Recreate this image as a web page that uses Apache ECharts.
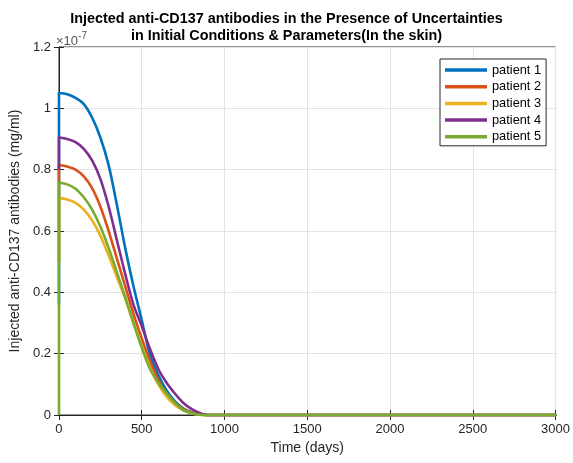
<!DOCTYPE html>
<html>
<head>
<meta charset="utf-8">
<script src="https://cdn.jsdelivr.net/npm/echarts@6/dist/echarts.min.js"></script>
<style>
html,body{margin:0;padding:0;background:#fff;}
#chart{width:573px;height:463px;}
</style>
</head>
<body>
<div id="chart"></div>
<script>
// Time points (days)
var days = [0, 50, 100, 150, 200, 250, 300, 350, 400, 450, 500, 550, 600, 650, 700, 750, 800, 850, 900, 1000, 1500, 2000, 2500, 3000];
// Values in units of 1e-7 mg/ml
var startValues = [0.36, 0.5, 0.5, 0.8, 0];  // value just before the jump at t=0
var patient1 = [1.05, 1.046, 1.034, 1.014, 0.97, 0.905, 0.815, 0.685, 0.545, 0.42, 0.31, 0.195, 0.13, 0.08, 0.045, 0.022, 0.009, 0.003, 0, 0, 0, 0, 0, 0];
var patient2 = [0.815, 0.81, 0.80, 0.778, 0.74, 0.68, 0.60, 0.51, 0.42, 0.33, 0.25, 0.175, 0.115, 0.07, 0.04, 0.02, 0.008, 0.002, 0, 0, 0, 0, 0, 0];
var patient3 = [0.708, 0.703, 0.692, 0.67, 0.635, 0.585, 0.52, 0.45, 0.38, 0.30, 0.225, 0.155, 0.10, 0.06, 0.033, 0.016, 0.006, 0.001, 0, 0, 0, 0, 0, 0];
var patient4 = [0.905, 0.90, 0.89, 0.868, 0.83, 0.77, 0.68, 0.57, 0.46, 0.36, 0.29, 0.215, 0.15, 0.105, 0.07, 0.04, 0.02, 0.007, 0, 0, 0, 0, 0, 0];
var patient5 = [0.758, 0.752, 0.738, 0.71, 0.67, 0.615, 0.545, 0.465, 0.385, 0.30, 0.22, 0.15, 0.105, 0.07, 0.04, 0.016, 0.006, 0.001, 0, 0, 0, 0, 0, 0];
var seriesNames = ['patient 1', 'patient 2', 'patient 3', 'patient 4', 'patient 5'];
var seriesColors = ['#0072BD', '#D95319', '#EDB120', '#7E2F8E', '#77AC30'];
var allValues = [patient1, patient2, patient3, patient4, patient5];
var titleText = 'Injected anti-CD137 antibodies in the Presence of Uncertainties\nin Initial Conditions & Parameters(In the skin)';
var xName = 'Time (days)';
var yName = 'Injected anti-CD137 antibodies (mg/ml)';

function pairs(vals) {
  return days.map(function (d, i) { return [d, vals[i]]; });
}

var chart = echarts.init(document.getElementById('chart'), null, {renderer: 'canvas'});
var font = 'Liberation Sans, Arial, Helvetica, sans-serif';
var axisColor = '#262626';

var series = [];
allValues.forEach(function (vals, i) {
  series.push({
    name: seriesNames[i],
    type: 'line',
    data: [[days[0], startValues[i]], [days[0], vals[0]]],
    showSymbol: false,
    clip: false,
    lineStyle: {width: 2.6, color: seriesColors[i]},
    itemStyle: {color: seriesColors[i]},
    animation: false
  });
  series.push({
    name: seriesNames[i],
    type: 'line',
    data: pairs(vals),
    showSymbol: false,
    smooth: 0.3,
    clip: false,
    lineStyle: {width: 2.6, color: seriesColors[i], join: 'round', cap: 'round'},
    itemStyle: {color: seriesColors[i]},
    animation: false
  });
});

chart.setOption({
  animation: false,
  backgroundColor: '#fff',
  textStyle: {fontFamily: font},
  title: {
    text: titleText,
    left: 'center',
    top: 6,
    textStyle: {fontFamily: font, fontSize: 14.4, fontWeight: 'bold', color: '#000', lineHeight: 16.5}
  },
  legend: {
    data: seriesNames,
    orient: 'vertical',
    left: 440,
    top: 59,
    icon: 'rect',
    itemWidth: 42,
    itemHeight: 3.5,
    itemGap: 2.7,
    padding: [4, 5, 2, 5],
    borderColor: axisColor,
    borderWidth: 1,
    backgroundColor: '#fff',
    textStyle: {fontFamily: font, fontSize: 12.8, color: '#000', lineHeight: 14}
  },
  grid: {
    left: 57, right: 16, top: 47, bottom: 48,
    show: true, borderColor: axisColor, borderWidth: 1, backgroundColor: 'transparent'
  },
  xAxis: [{
    type: 'value', min: 0, max: 3000, interval: 500,
    name: xName, nameLocation: 'middle', nameGap: 26,
    nameTextStyle: {fontFamily: font, fontSize: 14, color: axisColor},
    axisLine: {show: true, lineStyle: {color: axisColor}},
    axisTick: {show: true, inside: true, length: 5, lineStyle: {color: axisColor}},
    axisLabel: {fontFamily: font, fontSize: 13, color: axisColor, margin: 8,
      formatter: function (v) { return String(v); }},
    splitLine: {show: true, lineStyle: {color: '#e3e3e3', width: 1}}
  }, {
    type: 'value', min: 0, max: 3000, interval: 500, position: 'top',
    axisLine: {show: true, lineStyle: {color: axisColor}},
    axisTick: {show: true, inside: true, length: 5, lineStyle: {color: axisColor}},
    axisLabel: {show: false}, splitLine: {show: false}
  }],
  yAxis: [{
    type: 'value', min: 0, max: 1.2, interval: 0.2,
    name: yName, nameLocation: 'middle', nameGap: 31, nameRotate: 90,
    nameTextStyle: {fontFamily: font, fontSize: 14, color: axisColor},
    axisLine: {show: true, lineStyle: {color: axisColor}},
    axisTick: {show: true, inside: true, length: 5, lineStyle: {color: axisColor}},
    axisLabel: {fontFamily: font, fontSize: 13, color: axisColor, margin: 8,
      formatter: function (v) { return String(Math.round(v * 10) / 10); }},
    splitLine: {show: true, lineStyle: {color: '#e3e3e3', width: 1}}
  }, {
    type: 'value', min: 0, max: 1.2, interval: 0.2, position: 'right',
    axisLine: {show: true, lineStyle: {color: axisColor}},
    axisTick: {show: true, inside: true, length: 5, lineStyle: {color: axisColor}},
    axisLabel: {show: false}, splitLine: {show: false}
  }],
  graphic: [{
    type: 'text',
    left: 56, top: 31,
    style: {
      text: '{a|×10}{b|-7}',
      rich: {
        a: {fontFamily: font, fontSize: 13, fill: '#555', verticalAlign: 'bottom'},
        b: {fontFamily: font, fontSize: 10, fill: '#555', verticalAlign: 'top', padding: [0, 0, 7, 0]}
      }
    }
  }],
  series: series
});
</script>
</body>
</html>
